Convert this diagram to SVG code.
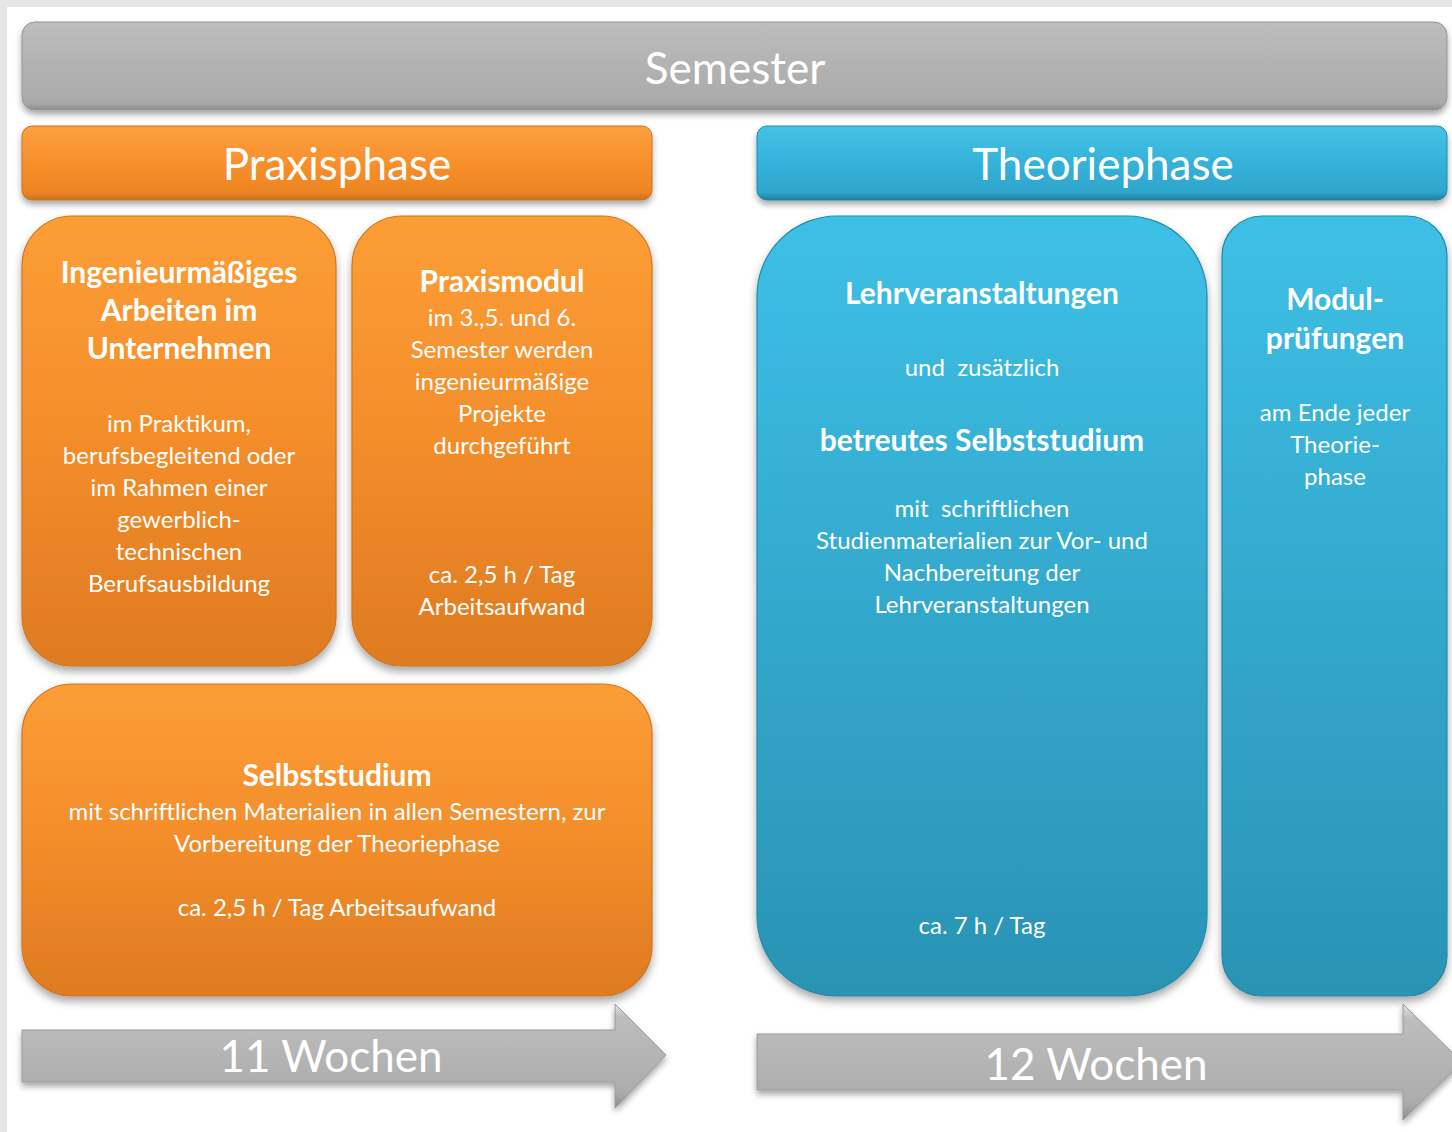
<svg xmlns="http://www.w3.org/2000/svg" width="1452" height="1132" viewBox="0 0 1452 1132">
<defs>
<linearGradient id="gGray" x1="0" y1="0" x2="0" y2="1">
<stop offset="0" stop-color="#bdbdbd"/><stop offset="0.5" stop-color="#b2b2b2"/><stop offset="0.92" stop-color="#aaaaaa"/><stop offset="1" stop-color="#8c8c8c"/>
</linearGradient>
<linearGradient id="gOrangeBar" x1="0" y1="0" x2="0" y2="1">
<stop offset="0" stop-color="#fca040"/><stop offset="0.5" stop-color="#f7902c"/><stop offset="0.9" stop-color="#ec8422"/><stop offset="1" stop-color="#c8701c"/>
</linearGradient>
<linearGradient id="gBlueBar" x1="0" y1="0" x2="0" y2="1">
<stop offset="0" stop-color="#45c2e6"/><stop offset="0.5" stop-color="#35b2d9"/><stop offset="0.9" stop-color="#2ea5cb"/><stop offset="1" stop-color="#1f7f9e"/>
</linearGradient>
<linearGradient id="gOrange" x1="0" y1="0" x2="0" y2="1">
<stop offset="0" stop-color="#fc9e36"/><stop offset="0.5" stop-color="#f38d2b"/><stop offset="1" stop-color="#de7b21"/>
</linearGradient>
<linearGradient id="gBlue" x1="0" y1="0" x2="0" y2="1">
<stop offset="0" stop-color="#3ec0e6"/><stop offset="0.5" stop-color="#33a8cd"/><stop offset="1" stop-color="#2a93b4"/>
</linearGradient>
<linearGradient id="gArrow" x1="0" y1="0" x2="0" y2="1">
<stop offset="0" stop-color="#e6e6e6"/><stop offset="0.12" stop-color="#bdbdbd"/><stop offset="0.85" stop-color="#acacac"/><stop offset="1" stop-color="#8e8e8e"/>
</linearGradient>
<filter id="sh" x="-5%" y="-10%" width="110%" height="130%">
<feDropShadow dx="0" dy="4" stdDeviation="3" flood-color="#000" flood-opacity="0.35"/>
</filter>
<filter id="shs" x="-5%" y="-5%" width="110%" height="115%">
<feDropShadow dx="0" dy="5" stdDeviation="4" flood-color="#000" flood-opacity="0.35"/>
</filter>
</defs>
<style>
text{font-family:Lato,"Liberation Sans",sans-serif;fill:#ffffff;text-anchor:middle}
.big{font-size:44px}
.hd{font-size:30px;font-weight:bold}
.tx{font-size:24px}
.obar{fill:url(#gOrangeBar);stroke:#c87420;stroke-width:1}
.bbar{fill:url(#gBlueBar);stroke:#1f8aab;stroke-width:1}
.obox{fill:url(#gOrange);stroke:#d07420;stroke-width:1.2}
.bbox{fill:url(#gBlue);stroke:#248aa9;stroke-width:1.2}
.arr{fill:url(#gArrow);stroke:#9a9a9a;stroke-width:1}
</style>
<rect x="0" y="0" width="1452" height="1132" fill="#e6e6e6"/>
<rect x="7" y="7" width="1445" height="1125" fill="#ffffff"/>

<g id="semester">
<rect x="22" y="22" width="1425" height="88" rx="13" fill="url(#gGray)" stroke="#959595" stroke-width="1" filter="url(#sh)"/>
<text class="big" x="735" y="84">Semester</text>
</g>

<g id="praxisphase">
<rect class="obar" x="22" y="126" width="630" height="74" rx="10" filter="url(#sh)"/>
<text class="big" x="337" y="180">Praxisphase</text>
</g>

<g id="theoriephase">
<rect class="bbar" x="757" y="126" width="690" height="74" rx="10" filter="url(#sh)"/>
<text class="big" x="1103" y="180">Theoriephase</text>
</g>

<g id="ingenieur">
<rect class="obox" x="22" y="216" width="314" height="450" rx="50" filter="url(#shs)"/>
<text class="hd" x="179" y="283">Ingenieurmäßiges</text>
<text class="hd" x="179" y="321">Arbeiten im</text>
<text class="hd" x="179" y="359">Unternehmen</text>
<text class="tx" x="179" y="432">im Praktikum,</text>
<text class="tx" x="179" y="464">berufsbegleitend oder</text>
<text class="tx" x="179" y="496">im Rahmen einer</text>
<text class="tx" x="179" y="528">gewerblich-</text>
<text class="tx" x="179" y="560">technischen</text>
<text class="tx" x="179" y="592">Berufsausbildung</text>
</g>

<g id="praxismodul">
<rect class="obox" x="352" y="216" width="300" height="450" rx="50" filter="url(#shs)"/>
<text class="hd" x="502" y="292">Praxismodul</text>
<text class="tx" x="502" y="326">im 3.,5. und 6.</text>
<text class="tx" x="502" y="358">Semester werden</text>
<text class="tx" x="502" y="390">ingenieurmäßige</text>
<text class="tx" x="502" y="422">Projekte</text>
<text class="tx" x="502" y="454">durchgeführt</text>
<text class="tx" x="502" y="583">ca. 2,5 h / Tag</text>
<text class="tx" x="502" y="615">Arbeitsaufwand</text>
</g>

<g id="selbststudium">
<rect class="obox" x="22" y="684" width="630" height="312" rx="50" filter="url(#shs)"/>
<text class="hd" x="337" y="786">Selbststudium</text>
<text class="tx" x="337" y="820">mit schriftlichen Materialien in allen Semestern, zur</text>
<text class="tx" x="337" y="852">Vorbereitung der Theoriephase</text>
<text class="tx" x="337" y="916">ca. 2,5 h / Tag Arbeitsaufwand</text>
</g>

<g id="lehrveranstaltungen">
<rect class="bbox" x="757" y="216" width="450" height="780" rx="80" filter="url(#shs)"/>
<text class="hd" x="982" y="304">Lehrveranstaltungen</text>
<text class="tx" x="982" y="376" xml:space="preserve">und  zusätzlich</text>
<text class="hd" x="982" y="451">betreutes Selbststudium</text>
<text class="tx" x="982" y="517" xml:space="preserve">mit  schriftlichen</text>
<text class="tx" x="982" y="549">Studienmaterialien zur Vor- und</text>
<text class="tx" x="982" y="581">Nachbereitung der</text>
<text class="tx" x="982" y="613">Lehrveranstaltungen</text>
<text class="tx" x="982" y="934">ca. 7 h / Tag</text>
</g>

<g id="modulpruefungen">
<rect class="bbox" x="1222" y="216" width="225" height="780" rx="40" filter="url(#shs)"/>
<text class="hd" x="1335" y="310">Modul-</text>
<text class="hd" x="1335" y="349">prüfungen</text>
<text class="tx" x="1335" y="421">am Ende jeder</text>
<text class="tx" x="1335" y="453">Theorie-</text>
<text class="tx" x="1335" y="485">phase</text>
</g>

<g id="connectors">
<g id="arrow-11">
<polygon class="arr" points="22,1030 615,1030 615,1004 666,1055 615,1108 615,1082 22,1082" filter="url(#sh)"/>
<text class="big" x="331" y="1072">11 Wochen</text>
</g>
<g id="arrow-12">
<polygon class="arr" points="757,1034 1403,1034 1403,1004 1462,1062 1403,1120 1403,1090 757,1090" filter="url(#sh)"/>
<text class="big" x="1096" y="1080">12 Wochen</text>
</g>
</g>
</svg>
